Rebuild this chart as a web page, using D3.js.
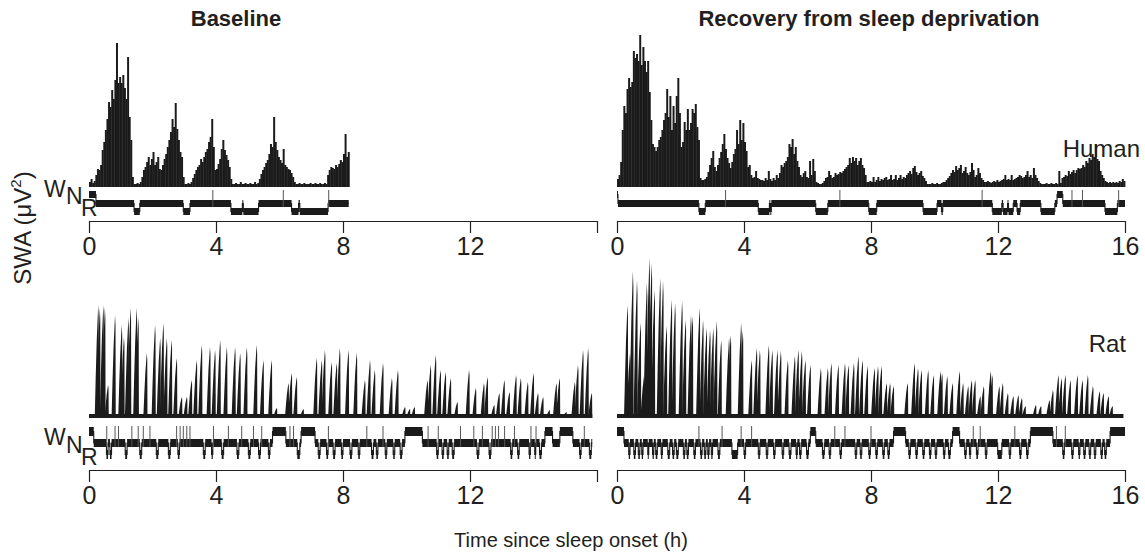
<!DOCTYPE html>
<html>
<head>
<meta charset="utf-8">
<script src="https://cdn.jsdelivr.net/npm/d3@7"></script>
<style>
  body { margin: 0; background: #fff; }
  text { font-family: Arial, "Liberation Sans", sans-serif; fill: #231f20; }
</style>
</head>
<body>
<svg id="chart" width="1145" height="560"></svg>
<script>
// ---- data ----
const hourTicks = [0, 4, 8, 12, 16];
const binH = 0.05; // SWA bin length (h)

// human SWA, one value per bin
const humanBaseSWA = [
  5,8,4,6,12,18,17,22,37,45,57,68,85,80,97,88,107,144,104,110,
  104,112,99,88,130,70,47,10,3,3,4,3,5,10,17,20,25,30,22,28,
  35,22,25,30,18,17,22,28,33,40,47,55,68,60,84,58,47,35,30,10,
  3,3,4,3,5,9,13,17,20,22,28,25,30,35,38,45,50,68,40,17,
  18,23,28,38,47,37,32,27,20,8,3,3,4,3,3,5,3,3,4,3,
  3,4,3,3,5,3,4,8,13,17,20,24,27,33,43,40,70,45,37,30,
  27,24,38,22,20,18,17,14,10,5,3,3,4,3,3,4,3,3,3,4,
  3,3,4,3,3,4,3,3,4,3,12,17,20,19,18,22,20,23,27,25,
  33,53,30,35
];
const humanRecSWA = [
  8,12,25,57,81,74,98,109,100,105,136,129,133,126,152,122,140,126,115,126,
  95,67,43,40,36,40,47,50,57,67,74,98,70,91,57,81,64,91,109,74,
  40,45,65,57,78,57,64,78,74,83,60,47,9,7,7,8,10,15,22,29,
  36,20,16,22,29,35,43,53,38,29,24,19,25,33,38,57,43,67,47,64,
  45,36,20,22,12,9,10,16,9,8,7,7,6,9,7,16,8,6,9,7,
  12,9,14,22,20,24,26,30,43,40,48,33,40,26,20,12,10,14,16,10,
  9,26,12,28,16,5,4,3,3,4,6,9,10,16,12,9,10,14,12,13,
  15,14,16,18,20,22,29,24,30,26,29,22,26,29,22,19,12,5,5,6,
  5,10,5,7,10,6,8,7,9,10,7,8,12,7,8,12,7,9,12,8,
  10,9,12,14,16,13,19,21,15,12,14,16,11,9,6,3,3,3,4,3,
  3,4,3,3,4,5,5,7,9,11,14,17,15,21,17,19,22,14,16,20,
  14,12,15,24,17,10,12,19,14,9,7,5,5,6,5,4,5,6,5,7,
  5,6,7,8,12,7,8,7,12,7,8,9,10,12,11,9,10,12,16,10,
  12,9,19,12,9,6,4,3,3,3,4,3,3,4,3,3,4,3,16,4,
  9,10,12,11,16,13,15,17,14,17,19,18,19,22,20,26,24,29,27,33,
  30,43,28,26,16,12,9,6,5,4,5,4,5,4,5,4,6,5,8,6
];

// rat SWA: peak time (h) and peak value of each NREM build-up
const ratBasePeakT = [0.29,0.34,0.45,0.50,0.60,0.82,1.03,1.10,1.24,1.31,1.50,1.55,1.82,2.08,2.24,2.34,2.45,2.60,2.76,2.92,
  3.08,3.23,3.39,3.55,3.81,3.97,4.13,4.34,4.60,4.76,4.97,5.28,5.49,5.75,5.91,6.28,6.38,6.54,6.75,7.17,
  7.33,7.43,7.64,7.80,7.90,8.17,8.43,8.69,8.85,9.00,9.26,9.54,9.73,9.95,10.10,10.25,10.66,10.76,10.92,11.07,
  11.23,11.39,11.60,11.97,12.18,12.44,12.55,12.76,12.92,13.08,13.24,13.45,13.60,13.82,14.00,14.14,14.30,14.50,14.72,14.82,
  15.03,15.30,15.40,15.56,15.72,15.83];
const ratBasePeakV = [113,110,113,111,33,103,93,81,100,110,110,100,65,93,80,95,80,78,60,21,
  21,38,58,73,71,68,78,71,71,65,71,73,58,58,10,35,45,41,9,60,
  58,68,56,55,70,68,65,38,58,48,55,40,48,11,9,11,38,53,63,48,
  46,40,16,48,30,35,41,13,25,38,26,43,40,36,45,25,21,8,35,40,
  6,36,53,68,70,25];
const ratRecPeakT = [0.33,0.41,0.50,0.63,0.74,0.85,0.94,1.02,1.09,1.18,1.36,1.45,1.56,1.72,1.83,2.05,2.16,2.33,2.38,2.60,
  2.71,2.82,2.93,3.03,3.14,3.28,3.53,3.58,3.91,3.96,4.24,4.40,4.50,4.78,4.89,5.05,5.16,5.38,5.60,5.71,
  5.82,5.93,6.09,6.42,6.64,6.75,6.97,7.18,7.29,7.46,7.60,7.73,7.89,8.11,8.22,8.33,8.49,8.60,8.71,9.15,
  9.37,9.48,9.59,9.80,9.97,10.19,10.24,10.40,10.57,10.79,10.90,11.06,11.17,11.28,11.44,11.55,11.77,11.82,12.04,12.15,
  12.31,12.48,12.64,12.75,12.86,13.19,13.35,13.62,13.73,13.90,14.00,14.12,14.28,14.50,14.66,14.83,14.99,15.20,15.32,15.48,
  15.60];
const ratRecPeakV = [113,65,147,138,95,42,135,160,155,128,140,137,92,118,115,117,98,103,102,110,
  98,90,88,90,97,78,80,83,95,87,58,70,68,73,68,68,67,58,62,68,
  67,58,53,50,50,55,53,55,53,55,62,58,52,50,52,52,35,35,32,35,
  55,50,48,48,43,47,45,42,35,47,35,32,38,38,22,32,47,43,32,35,
  25,22,23,20,12,13,12,18,28,43,40,43,38,43,38,43,32,27,25,22,
  12];
const ratFloor = 4;
const ratBaseEnd = 15.85, ratRecEnd = 15.95;

// hypnograms: wake episodes [start, end], brief awakenings (h), REM episodes [start, end]
const humanBaseWake = [[0, 0.22]];
const humanBaseBrief = [3.9, 6.12, 7.55];
const humanBaseREM = [[1.42,1.6],[2.97,3.18],[4.47,4.83],[4.86,5.34],[6.38,6.6],[6.64,7.53]];
const humanBaseEnd = 8.18;

const humanRecWake = [[0, 0.03],[13.86, 14.04]];
const humanRecBrief = [3.42, 7.02, 11.5, 14.33, 14.66, 15.8];
const humanRecREM = [[2.58,2.78],[4.45,4.8],[4.83,4.86],[6.26,6.64],[7.93,8.18],[9.64,10.08],[10.22,10.26],
  [11.82,12.12],[12.16,12.3],[12.33,12.48],[12.6,12.7],[13.35,13.79],[15.37,15.76]];
const humanRecEnd = 16;

const ratBaseWake = [[0,0.15],[5.78,6.2],[6.68,7.12],[9.95,10.5],[14.36,14.6],[14.83,15.24]];
const ratBaseBrief = [0.56,0.82,0.93,1.35,1.55,1.71,1.92,2.76,2.87,2.97,3.08,3.18,3.92,4.39,4.81,5.18,5.44,
  6.33,6.44,7.54,8.75,9.26,10.68,11.0,11.7,12.12,12.39,12.7,12.8,12.9,13.09,13.4,13.92,14.08,15.6];
const ratBaseREM = [[0.55,0.6],[0.66,0.71],[1.14,1.2],[1.6,1.66],[2.12,2.18],[2.5,2.56],[2.8,2.85],[3.6,3.66],
  [3.86,3.9],[4.18,4.24],[4.66,4.72],[5.02,5.08],[5.34,5.4],[5.65,5.7],[6.56,6.64],[7.22,7.28],[7.48,7.53],
  [7.69,7.75],[7.95,8.0],[8.22,8.28],[8.48,8.53],[8.9,8.96],[9.05,9.1],[9.33,9.38],[9.58,9.63],[9.8,9.86],
  [10.95,11.0],[11.12,11.17],[11.28,11.33],[11.44,11.5],[12.22,12.28],[12.6,12.66],[13.28,13.33],[13.5,13.55],
  [13.86,13.9],[14.04,14.07],[14.19,14.25],[15.45,15.5],[15.76,15.82]];
const ratBaseHypEnd = 15.85;

const ratRecWake = [[0,0.22],[6.09,6.26],[8.71,9.09],[10.57,10.79],[13.02,13.73],[15.53,16.0]];
const ratRecBrief = [2.58,3.31,3.91,4.24,6.86,7.18,8.0,11.22,11.44,12.53,13.84,14.12];
const ratRecREM = [[0.37,0.41],[0.53,0.58],[0.67,0.72],[0.78,0.82],[0.97,1.0],[1.12,1.16],[1.22,1.27],[1.39,1.43],
  [1.6,1.66],[1.75,1.8],[1.87,1.93],[2.09,2.14],[2.2,2.25],[2.42,2.47],[2.63,2.68],[2.75,2.8],[2.86,2.9],
  [2.97,3.01],[3.18,3.24],[3.62,3.8],[4.0,4.05],[4.45,4.5],[4.7,4.75],[4.93,4.98],[5.2,5.25],[5.42,5.48],
  [5.64,5.68],[5.75,5.8],[5.97,6.03],[6.47,6.53],[6.68,6.73],[7.02,7.07],[7.5,7.55],[7.66,7.71],[7.93,7.98],
  [8.15,8.2],[8.37,8.42],[8.53,8.58],[9.19,9.24],[9.41,9.46],[9.63,9.68],[9.84,9.89],[10.02,10.07],[10.28,10.33],
  [10.44,10.5],[10.95,11.0],[11.1,11.14],[11.32,11.37],[11.6,11.65],[11.99,12.12],[12.35,12.4],[12.68,12.73],
  [12.9,12.95],[14.04,14.09],[14.32,14.37],[14.54,14.58],[14.7,14.75],[14.87,14.92],[15.03,15.08],[15.24,15.29],
  [15.36,15.41]];
const ratRecHypEnd = 16;

// ---- drawing ----
const svg = d3.select("#chart");
const ink = "#1b1b1b";

const xL = d3.scaleLinear().domain([0, 16]).range([89, 597]);
const xR = d3.scaleLinear().domain([0, 16]).range([617, 1125]);
const yHum = d3.scaleLinear().domain([0, 155]).range([187, 32]);
const yRat = d3.scaleLinear().domain([0, 160]).range([418, 258]);

function drawBins(x, y, values) {
  const w = x(binH) - x(0);
  svg.append("g").selectAll("rect").data(values).join("rect")
    .attr("x", (d, i) => x(i * binH))
    .attr("width", w + 0.4)
    .attr("y", d => y(d))
    .attr("height", d => y(0) - y(d))
    .attr("fill", ink);
}

function drawSpikes(x, y, times, vals, end) {
  const g = svg.append("g");
  g.append("rect")
    .attr("x", x(0)).attr("width", x(end) - x(0))
    .attr("y", y(ratFloor)).attr("height", y(0) - y(ratFloor))
    .attr("fill", ink);
  const line = d3.line();
  g.selectAll("path").data(times).join("path")
    .attr("d", (t, i) => {
      const v = vals[i];
      return line([[x(t - 0.11), y(0)], [x(t - 0.08), y(v * 0.35)], [x(t - 0.045), y(v * 0.7)],
        [x(t - 0.012), y(v * 0.92)], [x(t), y(v)], [x(t + 0.015), y(v * 0.9)], [x(t + 0.022), y(0)]]) + "Z";
    })
    .attr("fill", ink);
}

function drawHyp(x, lv, wake, brief, rem, end) {
  const g = svg.append("g");
  const ev = [];
  wake.forEach(d => ev.push({ s: d[0], e: d[1], st: "W" }));
  rem.forEach(d => ev.push({ s: d[0], e: d[1], st: "R" }));
  ev.sort((a, b) => a.s - b.s);
  const segs = [];
  let t = 0;
  ev.forEach(d => {
    if (d.s > t) segs.push({ s: t, e: d.s, st: "N" });
    segs.push(d);
    t = d.e;
  });
  if (t < end) segs.push({ s: t, e: end, st: "N" });

  const mid = st => (lv[st][0] + lv[st][1]) / 2;
  const pts = [];
  segs.forEach(d => { pts.push([x(d.s), mid(d.st)]); pts.push([x(d.e), mid(d.st)]); });
  g.append("path").attr("d", d3.line()(pts))
    .attr("fill", "none").attr("stroke", ink).attr("stroke-width", 1.1);

  g.selectAll("rect").data(segs).join("rect")
    .attr("x", d => x(d.s))
    .attr("width", d => Math.max(0.8, x(d.e) - x(d.s)))
    .attr("y", d => lv[d.st][0])
    .attr("height", d => lv[d.st][1] - lv[d.st][0])
    .attr("fill", ink);

  g.selectAll("line").data(brief).join("line")
    .attr("x1", d => x(d)).attr("x2", d => x(d))
    .attr("y1", lv.N[1]).attr("y2", lv.W[0] - 1)
    .attr("stroke", "#555").attr("stroke-width", 1);
}

function drawAxis(x, yPos, showLast) {
  const ax = d3.axisBottom(x).tickValues(hourTicks).tickSize(12).tickSizeOuter(0).tickPadding(4)
    .tickFormat(d => (d === 16 && !showLast) ? "" : d);
  const g = svg.append("g").attr("transform", `translate(0,${yPos})`).call(ax);
  g.select(".domain").attr("stroke", "#231f20").attr("stroke-width", 1.2);
  g.selectAll(".tick line").attr("stroke", "#231f20").attr("stroke-width", 1.2);
  g.selectAll(".tick text").attr("font-size", 25)
    .attr("font-family", "Arial, 'Liberation Sans', sans-serif").attr("fill", "#231f20");
}

const hypTop = { W: [191, 198], N: [200, 207], R: [208, 215] };
const hypBot = { W: [427, 436], N: [439, 447], R: [450, 459] };

// human
drawBins(xL, yHum, humanBaseSWA);
drawBins(xR, yHum, humanRecSWA);
drawHyp(xL, hypTop, humanBaseWake, humanBaseBrief, humanBaseREM, humanBaseEnd);
drawHyp(xR, hypTop, humanRecWake, humanRecBrief, humanRecREM, humanRecEnd);
drawAxis(xL, 221, false);
drawAxis(xR, 221, true);

// rat
drawSpikes(xL, yRat, ratBasePeakT, ratBasePeakV, ratBaseEnd);
drawSpikes(xR, yRat, ratRecPeakT, ratRecPeakV, ratRecEnd);
drawHyp(xL, hypBot, ratBaseWake, ratBaseBrief, ratBaseREM, ratBaseHypEnd);
drawHyp(xR, hypBot, ratRecWake, ratRecBrief, ratRecREM, ratRecHypEnd);
drawAxis(xL, 470, false);
drawAxis(xR, 470, true);

// titles and labels
svg.append("text").attr("x", 236).attr("y", 26).attr("text-anchor", "middle")
  .attr("font-size", 22).attr("font-weight", "bold").text("Baseline");
svg.append("text").attr("x", 869).attr("y", 26).attr("text-anchor", "middle")
  .attr("font-size", 22).attr("font-weight", "bold").text("Recovery from sleep deprivation");
svg.append("text").attr("x", 1140).attr("y", 157).attr("text-anchor", "end")
  .attr("font-size", 24).text("Human");
svg.append("text").attr("x", 1126).attr("y", 352).attr("text-anchor", "end")
  .attr("font-size", 24).text("Rat");

const yl = svg.append("text").attr("transform", "translate(31,228) rotate(-90)")
  .attr("text-anchor", "middle").attr("font-size", 24);
yl.append("tspan").text("SWA (\u03bcV");
yl.append("tspan").attr("font-size", 15).attr("dy", -10).text("2");
yl.append("tspan").attr("dy", 10).text(")");

svg.append("text").attr("x", 571).attr("y", 547).attr("text-anchor", "middle")
  .attr("font-size", 20).text("Time since sleep onset (h)");

// stage letters
[[197, 204, 216], [445, 453, 465]].forEach(b => {
  svg.append("text").attr("x", 44).attr("y", b[0]).attr("font-size", 23).text("W");
  svg.append("text").attr("x", 66).attr("y", b[1]).attr("font-size", 23).text("N");
  svg.append("text").attr("x", 81).attr("y", b[2]).attr("font-size", 23).text("R");
});
</script>
</body>
</html>
